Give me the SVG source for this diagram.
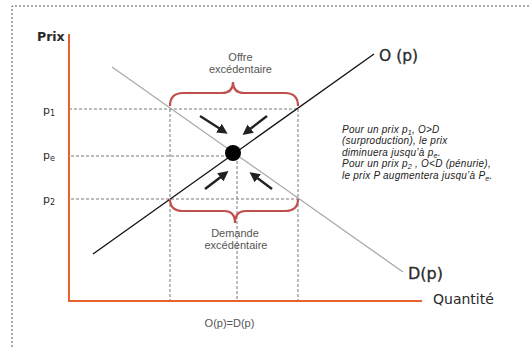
<svg xmlns="http://www.w3.org/2000/svg" width="530" height="349" viewBox="0 0 530 349">
<defs>
<style>
.lbl{font-family:"DejaVu Sans",Verdana,sans-serif;fill:#2a2a2a;}
.small{font-family:"Liberation Sans",Arial,sans-serif;fill:#555;font-size:11px;text-anchor:middle;}
.it{font-family:"Liberation Sans",Arial,sans-serif;font-style:italic;fill:#222;font-size:10px;letter-spacing:0.25px;}
.guide{stroke:#555;stroke-width:0.8;stroke-dasharray:3,2;fill:none;}
.brace{stroke:#c0504d;stroke-width:2.2;fill:none;}
.arr{stroke:#222;stroke-width:2.4;marker-end:url(#ah);}
</style>
<marker id="ah" viewBox="0 0 10 10" refX="7" refY="5" markerWidth="4.3" markerHeight="4.3" orient="auto" markerUnits="strokeWidth">
<path d="M0,0 L10,5 L0,10 z" fill="#222"/>
</marker>
</defs>
<rect width="530" height="349" fill="#fff"/>
<g id="frame">
<path d="M12,347 L12,6 L530,6" stroke="#444" stroke-width="0.9" stroke-dasharray="2,2" fill="none"/>
</g>
<g id="guides">
<path class="guide" d="M69,109 H298 M71,156 H233 M71,199 H298 M170,109 V301 M237,156 V301 M298,109 V301"/>
</g>
<g id="axes">
<path d="M69,34 V301 H422" stroke="#e8602a" stroke-width="2" fill="none"/>
<text class="lbl" x="37" y="41" font-size="12.5" font-weight="bold">Prix</text>
<text class="lbl" x="433" y="304" font-size="14">Quantité</text>
<text class="lbl" x="43" y="114" font-size="11">p<tspan font-size="8" dy="2">1</tspan></text>
<text class="lbl" x="43" y="159" font-size="11">p<tspan font-size="8" dy="2">e</tspan></text>
<text class="lbl" x="43" y="203" font-size="11">p<tspan font-size="8" dy="2">2</tspan></text>
<text class="small" x="229.5" y="327" font-size="12.5" fill="#333">O(p)=D(p)</text>
</g>
<g id="demand">
<line x1="112" y1="67" x2="403" y2="272" stroke="#aaa" stroke-width="1.3"/>
<text class="lbl" x="408" y="279" font-size="16" stroke="#2a2a2a" stroke-width="0.3">D(p)</text>
</g>
<g id="supply">
<line x1="93" y1="254" x2="374" y2="54" stroke="#111" stroke-width="1.3"/>
<text class="lbl" x="379" y="61" font-size="15.5" stroke="#2a2a2a" stroke-width="0.3">O (p)</text>
</g>
<g id="braces">
<path class="brace" d="M170,106 Q170,93 183,93 H222 Q233,93 233,82 Q233,93 244,93 H285 Q298,93 298,106"/>
<path class="brace" d="M170,199 Q170,211 183,211 H224 Q235,211 235,223 Q235,211 246,211 H285 Q298,211 298,199"/>
<text class="small" x="240.5" y="61">Offre</text>
<text class="small" x="240.5" y="73">excédentaire</text>
<text class="small" x="235" y="237">Demande</text>
<text class="small" x="236" y="249">excédentaire</text>
</g>
<g id="arrows">
<line class="arr" x1="200" y1="116" x2="225" y2="132"/>
<line class="arr" x1="267" y1="116" x2="245" y2="133"/>
<line class="arr" x1="205" y1="189" x2="226" y2="173"/>
<line class="arr" x1="272" y1="189" x2="252" y2="174"/>
</g>
<g id="equilibrium">
<circle cx="233" cy="153" r="8" fill="#000"/>
</g>
<g id="note">
<text class="it" x="342" y="132.5">Pour un prix p<tspan font-size="7" dy="2">1</tspan><tspan dy="-2">, O&gt;D</tspan></text>
<text class="it" x="342" y="144.1">(surproduction), le prix</text>
<text class="it" x="342" y="155.7">diminuera jusqu’à p<tspan font-size="7" dy="2">e</tspan><tspan dy="-2">.</tspan></text>
<text class="it" x="342" y="167.3">Pour un prix p<tspan font-size="7" dy="2">2</tspan><tspan dy="-2"> , O&lt;D (pénurie),</tspan></text>
<text class="it" x="342" y="178.9">le prix P augmentera jusqu’à P<tspan font-size="7" dy="2">e</tspan><tspan dy="-2">.</tspan></text>
</g>
</svg>
